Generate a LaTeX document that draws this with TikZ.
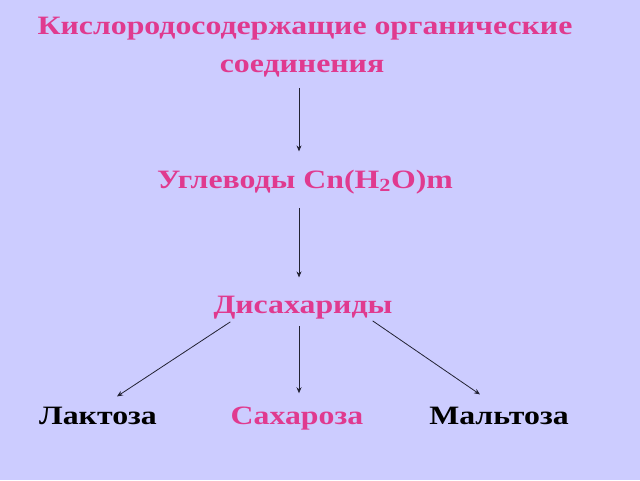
\documentclass[tikz,border=0pt]{standalone}
\usepackage{fontspec}
\setmainfont[FakeStretch=1.2]{Liberation Serif}
\usetikzlibrary{arrows.meta}
\definecolor{bg}{HTML}{CCCCFF}
\definecolor{pinktxt}{HTML}{E03A8F}
\definecolor{arrcol}{HTML}{222233}
\tikzset{
  lbl/.style={font=\fontsize{26.5}{30}\selectfont\bfseries, text=pinktxt, inner sep=0pt, anchor=base},
  blk/.style={font=\fontsize{26.5}{30}\selectfont\bfseries, text=black, inner sep=0pt, anchor=base},
  arr/.style={draw=arrcol, line width=0.8pt, -{Stealth[length=6pt,width=5pt]}}
}
\begin{document}
\begin{tikzpicture}[x=1pt,y=-1pt]
\fill[bg] (0,0) rectangle (640,480);
\useasboundingbox (0,0) rectangle (640,480);
\node[lbl] (t1) at (305,34) {Кислородосодержащие органические};
\node[lbl] (t2) at (302,72) {соединения};
\node[lbl] (ug) at (305,188) {Углеводы Cn(H\textsubscript{2}O)m};
\node[lbl] (dis) at (303,313) {Дисахариды};
\node[blk] (lak) at (98,424) {Лактоза};
\node[lbl] (sah) at (297,424) {Сахароза};
\node[blk] (mal) at (499,424) {Мальтоза};
\draw[arr] ([xshift=-3pt,yshift=-11pt]t2.south) -- ([xshift=-6pt,yshift=18pt]ug.north);
\draw[arr] ([xshift=-6pt,yshift=-14pt]ug.south) -- ([xshift=-4pt,yshift=18pt]dis.north);
\draw[arr] ([xshift=17pt,yshift=-3pt]dis.south west) -- ([xshift=19pt,yshift=10pt]lak.north);
\draw[arr] ([xshift=-4pt,yshift=-7pt]dis.south) -- ([xshift=2pt,yshift=13pt]sah.north);
\draw[arr] ([xshift=-20pt,yshift=-2pt]dis.south east) -- ([xshift=-19pt,yshift=12pt]mal.north);
\end{tikzpicture}
\end{document}
